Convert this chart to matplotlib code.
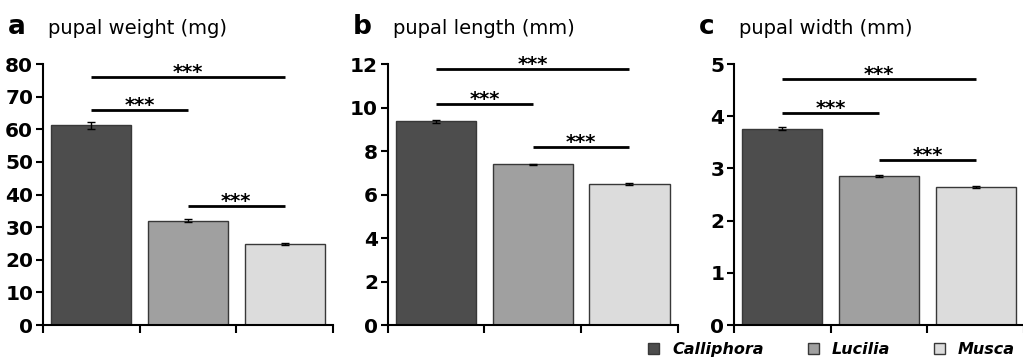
import matplotlib.pyplot as plt
from matplotlib.patches import Patch

species = ['Calliphora', 'Lucilia', 'Musca']
colors = ['#4d4d4d', '#a0a0a0', '#dcdcdc']

weight = [61.2, 32.0, 24.7]
weight_err = [1.0, 0.4, 0.3]
length = [9.36, 7.38, 6.49]
length_err = [0.05, 0.03, 0.03]
width = [3.76, 2.85, 2.65]
width_err = [0.03, 0.02, 0.02]

# significance brackets: (from bar, to bar, height)
sig_weight = [(0, 2, 76), (0, 1, 66), (1, 2, 36.5)]
sig_length = [(0, 2, 11.78), (0, 1, 10.17), (1, 2, 8.18)]
sig_width = [(0, 2, 4.72), (0, 1, 4.07), (1, 2, 3.17)]

plt.rcParams['font.family'] = ['DejaVu Sans']

fig = plt.figure(figsize=(10.23, 3.59), dpi=100)

panels = [
    ('a', 'pupal weight (mg)', weight, weight_err, sig_weight, 80, 10, 0.042),
    ('b', 'pupal length (mm)', length, length_err, sig_length, 12, 2, 0.379),
    ('c', 'pupal width (mm)', width, width_err, sig_width, 5, 1, 0.7175),
]

for letter, title, vals, errs, sigs, ymax, step, left in panels:
    ax = fig.add_axes([left, 0.0947, 0.2835, 0.727])
    x = range(len(vals))
    ax.bar(x, vals, width=0.83, color=colors, edgecolor='#383838', linewidth=1.0, zorder=2)
    ax.errorbar(x, vals, yerr=errs, fmt='none', ecolor='black', elinewidth=1, capsize=3, capthick=1, zorder=3)
    for i, j, h in sigs:
        ax.plot([i, j], [h, h], color='black', lw=2, solid_capstyle='butt', clip_on=False)
        ax.annotate('***', xy=((i + j) / 2, h), xytext=(0, -0.8), textcoords='offset points',
                    ha='center', va='baseline', fontsize=14, fontweight='bold')
    ax.set_xlim(-0.5, 2.5)
    ax.set_ylim(0, ymax)
    ax.set_yticks(range(0, ymax + 1, step))
    ax.set_xticks([-0.5, 0.5, 1.5, 2.5])
    ax.set_xticklabels([])
    ax.tick_params(axis='x', direction='out', length=6, width=1.5)
    ax.tick_params(axis='y', direction='out', length=5, width=1.5, pad=2, labelsize=14.5)
    for lab in ax.get_yticklabels():
        lab.set_fontweight('bold')
    for s in ['top', 'right']:
        ax.spines[s].set_visible(False)
    for s in ['left', 'bottom']:
        ax.spines[s].set_linewidth(1.5)
    fx = left - 0.034
    fig.text(fx, 0.905, letter, fontsize=19, fontweight='bold', ha='left', va='baseline')
    fig.text(fx + 0.039, 0.905, title, fontsize=14, ha='left', va='baseline')

handles = [Patch(facecolor=c, edgecolor='#383838', linewidth=1) for c in colors]
fig.legend(handles, species, ncol=3, loc='lower right', bbox_to_anchor=(1.006, -0.035),
           frameon=False, handlelength=0.7, handleheight=0.7, handletextpad=0.8,
           columnspacing=2.75, prop={'style': 'italic', 'weight': 'bold', 'size': 11.5})

fig.savefig('out.png', dpi=100)
